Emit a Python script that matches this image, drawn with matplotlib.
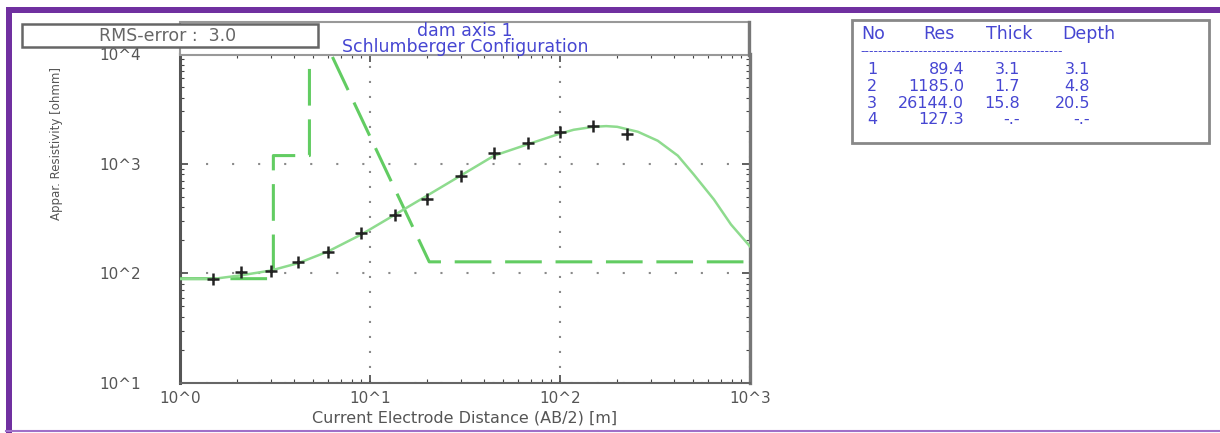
import matplotlib.pyplot as plt
from matplotlib.patches import Rectangle
from matplotlib.ticker import LogLocator, NullFormatter

# data lapangan: AB/2 [m] dan resistivitas semu [ohm m]
ab2 = [1.5, 2.1, 3.0, 4.2, 6.0, 9.0, 13.5, 20, 30, 45, 67.5, 100, 150, 225]
rho_obs = [88, 102, 106, 126, 158, 231, 337, 481, 778, 1260, 1549, 1950, 2213, 1873]

# kurva hasil perhitungan model
ab2_fit = [1.0, 1.5, 2.1, 3.0, 4.2, 6.0, 9.0, 13.5, 20, 30, 45, 67.5, 100,
           118, 150, 175, 200, 257, 327, 417, 506, 646, 794, 1000]
rho_fit = [89, 89, 96, 106, 124, 158, 226, 342, 512, 778, 1183, 1500, 1880,
           2037, 2168, 2200, 2168, 1954, 1618, 1183, 796, 471, 279, 176]

# model lapisan
no_lapisan = [1, 2, 3, 4]
res = [89.4, 1185.0, 26144.0, 127.3]
thick = [3.1, 1.7, 15.8]
depth = [3.1, 4.8, 20.5]

xticks = [1, 10, 100, 1000]
xtick_labels = ['10^0', '10^1', '10^2', '10^3']
yticks = [10, 100, 1000, 10000]
ytick_labels = ['10^1', '10^2', '10^3', '10^4']

rms = 3.0
judul = ['dam axis 1', 'Schlumberger Configuration']

W, H = 1220, 433
biru = '#4646d2'
abu = '#555555'

fig = plt.figure(figsize=(W / 100, H / 100), dpi=100)
fig.patch.set_facecolor('white')

ax = fig.add_axes([180 / W, (H - 383) / H, 570 / W, (383 - 54) / H])
ax.set_xscale('log')
ax.set_yscale('log')
ax.set_xlim(1, 1000)
ax.set_ylim(10, 10000)

# garis model lapisan (putus-putus)
x_mod = [1, depth[0], depth[0], depth[1], depth[1], depth[2], 1000]
y_mod = [res[0], res[0], res[1], res[1], res[2], res[3], res[3]]
ax.plot(x_mod, y_mod, color='#62cc62', lw=2.2, dashes=(12, 4.5), zorder=3)

# kurva model dan titik data
ax.plot(ab2_fit, rho_fit, color='#8edb8e', lw=1.8, zorder=4)
ax.plot(ab2, rho_obs, ls='none', marker='+', ms=9, mew=1.8, color='#222222', zorder=5)

ax.set_xticks(xticks, labels=xtick_labels)
ax.set_yticks(yticks, labels=ytick_labels)
ax.xaxis.set_minor_locator(LogLocator(base=10, subs=range(2, 10)))
ax.yaxis.set_minor_locator(LogLocator(base=10, subs=range(2, 10)))
ax.xaxis.set_minor_formatter(NullFormatter())
ax.yaxis.set_minor_formatter(NullFormatter())
ax.tick_params(which='both', direction='in', top=True, right=True, color='#444444')
ax.tick_params(which='major', length=6, width=1.2, labelsize=11, labelcolor=abu)
ax.tick_params(which='minor', length=3, width=0.8)
ax.tick_params(axis='y', which='major', pad=28)
ax.tick_params(axis='x', which='major', pad=6)

ax.xaxis.grid(True, which='major', color='#8a8a8a', lw=1.5, ls=(0, (1, 6.2)))
ax.yaxis.grid(True, which='major', color='#8a8a8a', lw=1.5, ls=(0, (1, 11.5)))

ax.spines['left'].set_color('#555555')
ax.spines['left'].set_linewidth(2.2)
ax.spines['bottom'].set_color('#666666')
ax.spines['bottom'].set_linewidth(1.5)
ax.spines['right'].set_color('#777777')
ax.spines['right'].set_linewidth(2.4)
ax.spines['top'].set_color('#aaaaaa')
ax.spines['top'].set_linewidth(1.5)

ax.set_xlabel('Current Electrode Distance (AB/2) [m]', fontsize=11.5, color=abu, labelpad=3)

# lapisan atas untuk kotak-kotak dan teks (koordinat piksel)
bg = fig.add_axes([0, 0, 1, 1], zorder=10)
bg.set_xlim(0, W)
bg.set_ylim(H, 0)
bg.axis('off')
bg.patch.set_alpha(0)

# bingkai ungu
bg.add_patch(Rectangle((6, 7), W - 6, 6, color='#7030a0', lw=0))
bg.add_patch(Rectangle((6, 7), 6, H - 7, color='#7030a0', lw=0))
bg.plot([6, W], [430.5, 430.5], color='#a070c8', lw=1.5)

bg.text(57, 144, 'Appar. Resistivity [ohmm]', rotation=90, ha='center', va='center',
        fontsize=8.5, color=abu)

# kotak judul
bg.add_patch(Rectangle((180, 22), 569, 33, facecolor='white', edgecolor='#999999', lw=1.5))
bg.plot([749, 749], [22, 55], color='#777777', lw=2.4)
bg.text(465, 31, judul[0], ha='center', va='center', fontsize=12.5, color=biru)
bg.text(465, 47, judul[1], ha='center', va='center', fontsize=12.5, color=biru)

# kotak RMS
bg.add_patch(Rectangle((22, 24), 296, 23, facecolor='white', edgecolor='#666666', lw=1.8))
bg.text(168, 36, 'RMS-error :  %.1f' % rms, ha='center', va='center', fontsize=12.5, color='#666666')

# tabel model lapisan
bg.add_patch(Rectangle((852, 20), 357, 123, facecolor='white', edgecolor='#888888', lw=2))
for x, h in zip([861, 923, 986, 1062], ['No', 'Res', 'Thick', 'Depth']):
    bg.text(x, 34, h, ha='left', va='center', fontsize=12.5, color=biru)
bg.text(860, 52, '-' * 45, ha='left', va='center', fontsize=9, color=biru)
for i in range(len(no_lapisan)):
    y = 70 + i * 16.5
    t = '%.1f' % thick[i] if i < len(thick) else '-.-'
    d = '%.1f' % depth[i] if i < len(depth) else '-.-'
    bg.text(867, y, str(no_lapisan[i]), ha='left', va='center', fontsize=11.5, color=biru)
    bg.text(964, y, '%.1f' % res[i], ha='right', va='center', fontsize=11.5, color=biru)
    bg.text(1020, y, t, ha='right', va='center', fontsize=11.5, color=biru)
    bg.text(1090, y, d, ha='right', va='center', fontsize=11.5, color=biru)

plt.savefig('out.png', dpi=100, facecolor='white')
